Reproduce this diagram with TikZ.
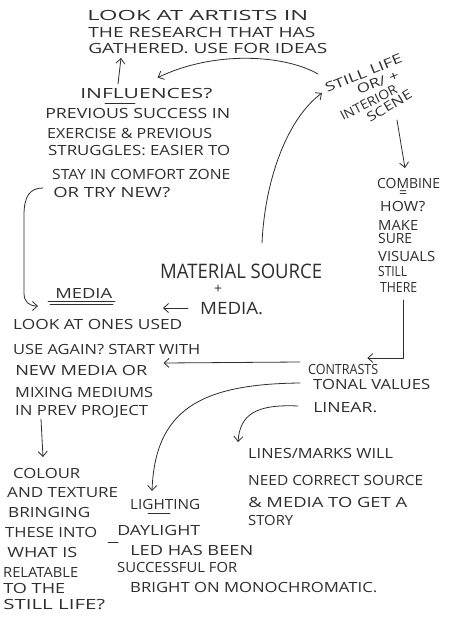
\documentclass[tikz,border=0pt]{standalone}
\usepackage{fontspec}
\setmainfont{Open Sans}
\usetikzlibrary{arrows.meta,calc}
\definecolor{ink}{gray}{0.18}
\newcommand\hwsize{14}
\newlength\hwwd
\newsavebox\hwbox
\newcommand\hwline[6][]{%
  \pgfinterruptpicture
  \global\setbox\hwbox\hbox{\fontsize{\hwsize}{\hwsize}\selectfont #6}%
  \endpgfinterruptpicture
  \hwwd=\wd\hwbox
  \pgfmathsetmacro\hwsx{#5/\hwwd}%
  \node[hw,font=\fontsize{\hwsize}{\hwsize}\selectfont,anchor=base west,#1,xscale=\hwsx] (#2) at (#3,#4) {#6};}
\begin{document}
\begin{tikzpicture}[x=1pt,y=-1pt,
  hw/.style={inner sep=0pt, text=ink},
  conn/.style={draw=ink, line width=0.8pt, line cap=round, line join=round},
  arr/.style={conn, -{Straight Barb[length=5pt,width=9pt]}}]
\useasboundingbox[fill=white] (0,0) rectangle (448,640);

% top block
\hwline{T1}{87}{20}{221}{LOOK AT ARTISTS IN}
\hwline{T2}{88}{37}{227}{THE RESEARCH THAT HAS}
\hwline{T3}{88}{53}{239}{GATHERED. USE FOR IDEAS}

% influences block
\hwline{I0}{80}{98}{132}{INFLUENCES?}
\hwline{I1}{45}{118}{185}{PREVIOUS SUCCESS IN}
\hwline{I2}{47}{138}{165}{EXERCISE \& PREVIOUS}
\hwline{I3}{48}{155}{182}{STRUGGLES: EASIER TO}
\hwline{I4}{52}{179}{178}{STAY IN COMFORT ZONE}
\hwline{I5}{53}{197}{117}{OR TRY NEW?}

% still life (rotated)
\renewcommand\hwsize{13}
\hwline[rotate=22]{S1}{327}{93}{82}{STILL LIFE}
\hwline[rotate=22]{S2}{359}{95}{44}{OR/ +}
\hwline[rotate=27]{S3}{343}{121}{62}{INTERIOR}
\hwline[rotate=31]{S4}{370}{123}{50}{SCENE}
\renewcommand\hwsize{14}

% combine block
\hwline{C1}{377}{188}{63}{COMBINE}
\node[hw,font=\fontsize{14}{14}\selectfont] (C1eq) at (403,194) {=};
\hwline{C2}{380}{211}{45}{HOW?}
\hwline{C3}{378}{230}{40}{MAKE}
\hwline{C4}{378}{243}{34}{SURE}
\hwline{C5}{378}{261}{57}{VISUALS}
\hwline{C6}{378}{276}{29}{STILL}
\hwline{C7}{380}{292}{37}{THERE}

% material source
\renewcommand\hwsize{20}
\hwline{MS1}{160}{278}{162}{MATERIAL SOURCE}
\renewcommand\hwsize{17}
\hwline{MS3}{200}{314}{63}{MEDIA.}
\renewcommand\hwsize{14}
\node[hw,font=\fontsize{14}{14}\selectfont] (MS2) at (218,289) {+};

% media block
\hwline{M0}{55}{298}{57}{MEDIA}
\hwline{M1}{13}{329}{169}{LOOK AT ONES USED}
\hwline{M2}{13}{354}{187}{USE AGAIN? START WITH}
\hwline{M3}{15}{375}{132}{NEW MEDIA OR}
\hwline{M4}{15}{397}{138}{MIXING MEDIUMS}
\hwline{M5}{15}{415}{133}{IN PREV PROJECT}

% contrasts
\hwline{K1}{308}{374}{70}{CONTRASTS}
\hwline{K2}{313}{389}{117}{TONAL VALUES}
\hwline{K3}{313}{412}{64}{LINEAR.}

% lines/marks
\hwline{L1}{248}{458}{145}{LINES/MARKS WILL}
\hwline{L2}{248}{485}{175}{NEED CORRECT SOURCE}
\hwline{L3}{248}{507}{159}{\& MEDIA TO GET A}
\hwline{L4}{248}{525}{45}{STORY}

% colour block
\hwline{Q1}{13}{478}{67}{COLOUR}
\hwline{Q2}{7}{497}{111}{AND TEXTURE}
\hwline{Q3}{8}{517}{82}{BRINGING}
\hwline{Q4}{5}{537}{92}{THESE INTO}
\hwline{Q5}{7}{557}{70}{WHAT IS}
\hwline{Q6}{3}{577}{75}{RELATABLE}
\hwline{Q7}{3}{593}{62}{TO THE}
\hwline{Q8}{3}{609}{102}{STILL LIFE?}

% lighting block
\hwline{G1}{130}{509}{70}{LIGHTING}
\hwline{G2}{117}{535}{83}{DAYLIGHT}
\hwline{G3}{130}{555}{123}{LED HAS BEEN}
\hwline{G4}{117}{572}{120}{SUCCESSFUL FOR}
\hwline{G5}{130}{592}{247}{BRIGHT ON MONOCHROMATIC.}

% underlines and marks
\draw[conn] ([shift={(25,5)}]I0.base west) -- ([shift={(55,5)}]I0.base west);
\draw[conn] ([shift={(-7,3)}]M0.base west) -- ([shift={(60,3)}]M0.base west);
\draw[conn] ([shift={(-5,6)}]M0.base west) -- ([shift={(58,6)}]M0.base west);
\draw[conn] ([shift={(18,4)}]G1.base west) -- ([shift={(40,4)}]G1.base west);
\draw[conn] ([shift={(-22,-13)}]G3.base west) -- ([shift={(-12,-13)}]G3.base west);

% connectors
\draw[arr] ([shift={(38,-14)}]I0.base west) -- ([shift={(33,5)}]T3.base west);
\draw[arr] ([shift={(-9,-19)}]S1.base west) .. controls (285,55) and (215,50) .. ([shift={(-55,-10)}]I0.north east);
\draw[arr] ([shift={(27,-3)}]S4.base west) -- ([shift={(28,-20)}]C1.base west);
\draw[arr] ([shift={(102,-35)}]MS1.base west) .. controls (265,178) and (288,118) .. ([shift={(-5,0)}]S1.base west);
\draw[arr] ([shift={(23,8)}]C7.base west) |- ([shift={(-11,-16)}]K1.base east);
\draw[arr] ([shift={(-8,-12)}]K1.base west) -- ([shift={(16,-12)}]M3.base east);
\draw[arr] ([shift={(-13,-6)}]K2.base west) .. controls (200,384) and (155,410) .. ([shift={(22,-18)}]G1.base west);
\draw[arr] ([shift={(-15,-6)}]K3.base west) .. controls (255,404) and (240,415) .. ([shift={(-10,-16)}]L1.base west);
\draw[arr] ([shift={(-12,-6)}]MS3.base west) -- ([shift={(-37,-6)}]MS3.base west);
\draw[arr] ([shift={(-10,-9)}]I5.base west) .. controls (30,188) and (24,196) .. (24,215) -- (24,293) .. controls (24,302) and (29,306) .. ([shift={(-17,8)}]M0.base west);
\draw[arr] ([shift={(26,4)}]M5.base west) -- ([shift={(30,-21)}]Q1.base west);
\end{tikzpicture}
\end{document}
